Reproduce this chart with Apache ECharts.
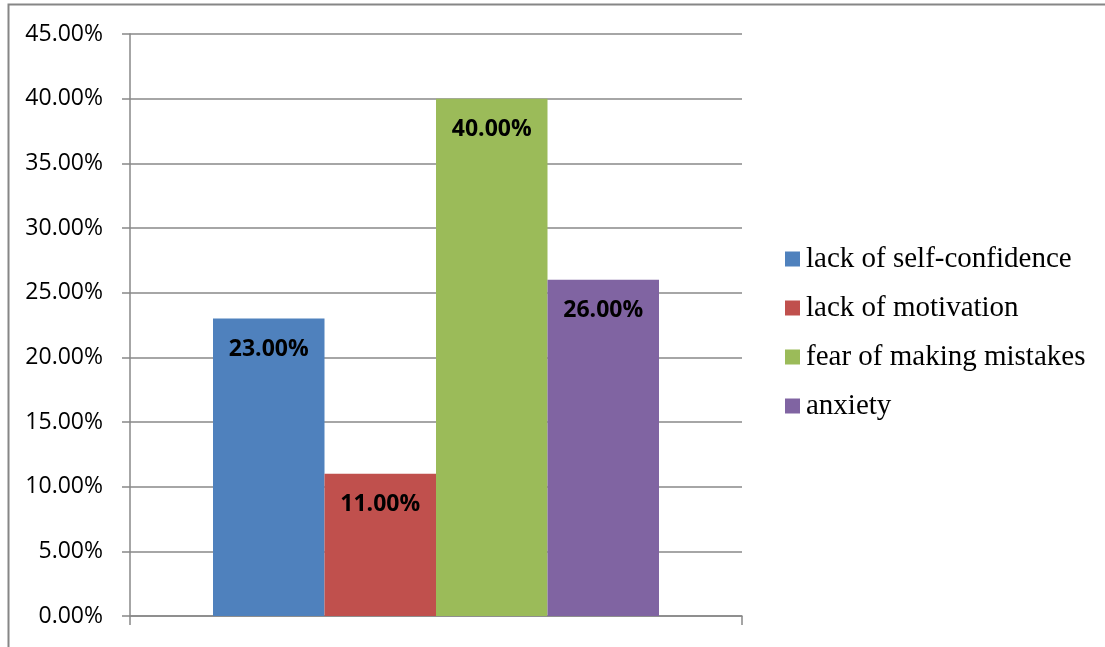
<!DOCTYPE html>
<html>
<head>
<meta charset="utf-8">
<script src="https://cdn.jsdelivr.net/npm/echarts@6/dist/echarts.min.js"></script>
<style>
  html, body { margin: 0; padding: 0; background: #fff; }
  #chart { width: 1105px; height: 647px; }
</style>
</head>
<body>
<div id="chart"></div>
<script>
// data
const categories = [''];
const seriesNames = ['lack of self-confidence', 'lack of motivation', 'fear of making mistakes', 'anxiety'];
const seriesValues = [23, 11, 40, 26];
const seriesColors = ['#4F81BD', '#C0504D', '#9BBB59', '#8064A2'];

const chart = echarts.init(document.getElementById('chart'));

const series = seriesNames.map((name, i) => {
  return {
    name: name,
    type: 'bar',
    data: [seriesValues[i]],
    barWidth: 111.5,
    barGap: '0%',
    itemStyle: { color: seriesColors[i] },
    label: {
      show: true,
      position: 'insideTop',
      distance: 19,
      color: '#000',
      fontFamily: 'Open Sans',
      fontWeight: 'bold',
      fontSize: 23,
      formatter: (p) => p.value.toFixed(2) + '%',
    },
  };
});

const option = {
  animation: false,
  backgroundColor: '#fff',
  graphic: [
    {
      type: 'rect',
      shape: { x: 8.5, y: 4.5, width: 1200, height: 800 },
      style: { fill: 'none', stroke: '#868686', lineWidth: 2 },
      silent: true,
    },
  ],
  grid: {
    left: 130,
    top: 34,
    width: 612,
    height: 582,
  },
  legend: {
    orient: 'vertical',
    left: 780,
    top: 239,
    icon: 'rect',
    itemWidth: 15,
    itemHeight: 15,
    itemGap: 19,
    textStyle: {
      fontFamily: 'Liberation Serif',
      fontSize: 29,
      lineHeight: 30,
      color: '#000',
      padding: [0, 0, 0, 1],
    },
    data: seriesNames,
  },
  xAxis: {
    type: 'category',
    data: categories,
    axisLine: { lineStyle: { color: '#888', width: 1.5 } },
    axisTick: { show: true, length: 9, lineStyle: { color: '#888', width: 1.5 } },
    axisLabel: { show: false },
  },
  yAxis: {
    type: 'value',
    min: 0,
    max: 45,
    interval: 5,
    axisLine: { show: true, lineStyle: { color: '#888', width: 1.5 } },
    axisTick: { show: true, length: 8, lineStyle: { color: '#888', width: 1.5 } },
    splitLine: { lineStyle: { color: '#888', width: 1.5 } },
    axisLabel: {
      color: '#000',
      fontFamily: 'Open Sans',
      fontSize: 23,
      margin: 27,
      formatter: (v) => v.toFixed(2) + '%',
    },
  },
  series: series,
};

chart.setOption(option);
</script>
</body>
</html>
